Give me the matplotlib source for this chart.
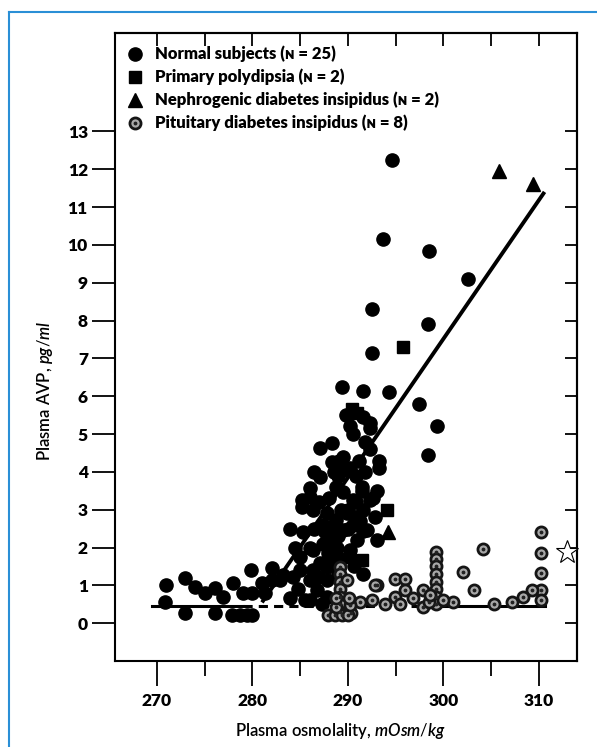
import matplotlib
matplotlib.use("Agg")
import matplotlib.pyplot as plt
from matplotlib.lines import Line2D

plt.rcParams['font.family'] = ['Lato', 'DejaVu Sans']
plt.rcParams['mathtext.fontset'] = 'custom'
plt.rcParams['mathtext.it'] = 'Lato:italic:semibold'
plt.rcParams['mathtext.rm'] = 'Lato'

# --- data ---
normal_x = [294.6, 293.7, 298.5, 302.6, 292.5, 298.4, 292.5, 289.4, 291.6, 294.3,
            297.4, 299.3, 298.4, 292.3, 293.3, 293.3, 291.5, 292.3, 293.0, 291.6,
            291.6, 292.3, 292.3, 290.2,
            287.1, 288.3, 288.3, 289.1, 289.5, 290.2, 287.1, 286.0, 285.2, 285.2,
            286.0, 286.3, 287.8, 288.8, 289.5, 290.5, 291.5, 293.0, 288.1, 288.8,
            289.5, 289.9, 290.9, 291.6, 292.0, 292.6, 290.2, 290.2, 288.4, 288.4,
            287.4, 287.4, 287.9, 288.4, 287.8, 287.1, 286.3, 285.0, 284.5, 285.0,
            286.3, 286.0, 286.9, 286.8, 287.8, 287.8, 283.9, 289.0, 290.0, 289.0,
            291.0, 290.5,
            286.5, 287.0, 288.0, 288.5, 289.5, 290.8, 291.2, 291.8, 286.5, 288.0,
            289.3, 289.0, 290.6, 291.6, 287.3, 286.0, 285.3, 286.0, 290.5, 289.8,
            291.8, 289.3, 290.9, 292.8, 287.6, 288.9, 290.0, 291.3,
            270.9, 270.8, 272.9, 272.9, 274.0, 275.0, 276.1, 276.1, 276.9, 278.0,
            277.9, 278.7, 279.4, 280.0, 279.0, 279.9, 280.0, 281.0, 281.3, 282.0,
            282.0, 282.9, 283.9, 283.2, 284.2, 285.5, 284.8]
normal_y = [12.25, 10.15, 9.85, 9.1, 8.3, 7.9, 7.15, 6.25, 6.15, 6.1,
            5.8, 5.2, 4.45, 4.6, 4.3, 4.1, 3.6, 3.25, 2.2, 2.45,
            5.45, 5.3, 5.15, 5.2,
            4.63, 4.76, 4.26, 4.3, 4.05, 4.1, 3.86, 3.57, 3.25, 3.07,
            3.33, 2.99, 2.91, 3.6, 3.47, 3.25, 3.5, 3.5, 2.54, 2.72,
            2.46, 2.91, 2.8, 2.99, 2.46, 3.3, 1.93, 1.75, 2.1, 1.93,
            2.1, 2.6, 1.85, 1.58, 1.48, 1.58, 1.93, 1.75, 2.0, 1.4,
            1.4, 1.14, 1.22, 0.87, 1.14, 0.69, 2.5, 3.9, 3.0, 2.3,
            2.2, 2.6,
            2.5, 3.2, 3.3, 4.0, 4.4, 3.9, 4.3, 4.0, 4.0, 2.2,
            1.7, 1.3, 1.5, 1.3, 0.5, 0.6, 2.4, 2.0, 5.0, 5.5,
            4.8, 3.0, 3.2, 2.8, 2.4, 2.0, 2.5, 2.7,
            1.0, 0.56, 1.19, 0.26, 0.95, 0.8, 0.92, 0.26, 0.69, 1.05,
            0.21, 0.21, 0.21, 0.21, 0.8, 1.4, 0.8, 1.05, 0.8, 1.45,
            1.14, 1.14, 0.66, 1.27, 1.22, 0.6, 0.9]

polydipsia_x = [295.8, 290.4, 291.0, 294.1, 291.5, 288.6]
polydipsia_y = [7.3, 5.65, 5.55, 3.0, 1.67, 1.85]

nephro_x = [305.8, 309.4, 294.2]
nephro_y = [11.95, 11.6, 2.4]

pituitary_x = [299.2, 299.2, 299.2, 299.2, 299.2, 299.2, 299.2, 299.2,
               304.2, 302.1, 303.2,
               310.2, 310.2, 310.2, 310.2, 310.2,
               309.3, 308.3, 307.2, 305.3, 301.0, 300.0,
               293.0, 294.9, 296.0, 296.0, 294.9, 293.9, 296.8, 297.9, 297.9, 291.3, 290.3,
               289.2, 289.2, 289.2, 289.2, 289.2, 289.2, 289.2,
               287.9, 288.6, 289.4, 290.0, 289.9, 288.8, 288.8, 290.2, 290.1, 292.8,
               292.5, 295.5, 298.5, 298.6]
pituitary_y = [1.88, 1.7, 1.5, 1.3, 1.1, 0.9, 0.7, 0.5,
               1.96, 1.35, 0.87,
               2.41, 1.85, 1.32, 0.87, 0.6,
               0.87, 0.7, 0.55, 0.52, 0.55, 0.6,
               1.0, 1.16, 1.16, 0.87, 0.7, 0.52, 0.66, 0.87, 0.42, 0.55, 0.27,
               1.48, 1.3, 1.1, 0.9, 0.7, 0.5, 0.3,
               0.21, 0.21, 0.21, 0.21, 1.14, 0.42, 0.66, 0.47, 0.66, 1.0,
               0.6, 0.5, 0.55, 0.75]

# regression line and baseline
slope_x = [281.0, 310.6]
slope_y = [0.55, 11.4]
base_solid1_x = [269.5, 279.0]
base_dash_x = [279.0, 300.0]
base_solid2_x = [300.0, 310.6]
base_y = 0.45

legend_labels = ["Normal subjects (\u0274 = 25)",
                 "Primary polydipsia (\u0274 = 2)",
                 "Nephrogenic diabetes insipidus (\u0274 = 2)",
                 "Pituitary diabetes insipidus (\u0274 = 8)"]

fig = plt.figure(figsize=(5.97, 7.47), dpi=100)
ax = fig.add_axes([0.1926, 0.1151, 0.7739, 0.8407])

ax.plot(slope_x, slope_y, color='black', lw=2.8, solid_capstyle='butt', zorder=2)
ax.plot(base_solid1_x, [base_y, base_y], color='black', lw=2.2, zorder=2)
ax.plot(base_dash_x, [base_y, base_y], color='black', lw=2.2, ls=(0, (3, 2)), zorder=2)
ax.plot(base_solid2_x, [base_y, base_y], color='black', lw=2.2, zorder=2)

ms = 9.5
pit_style = dict(mfc='#a8a8a8', mec='#151515', mew=2.0, ms=ms - 1.5)
ax.plot(normal_x, normal_y, 'o', color='black', ms=ms, zorder=3)
ax.plot(polydipsia_x, polydipsia_y, 's', color='black', ms=ms - 0.5, zorder=3)
ax.plot(nephro_x, nephro_y, '^', color='black', ms=ms + 1, zorder=3)
ax.plot(pituitary_x, pituitary_y, 'o', zorder=4, **pit_style)
ax.plot(pituitary_x, pituitary_y, '.', color='#222222', ms=3.5, zorder=5)

# legend drawn by hand
leg_x = 267.7
leg_rows = [15.05, 14.44, 13.84, 13.23]
ax.plot(leg_x, leg_rows[0], 'o', color='black', ms=ms)
ax.plot(leg_x, leg_rows[1], 's', color='black', ms=ms - 0.5)
ax.plot(leg_x, leg_rows[2], '^', color='black', ms=ms + 1)
ax.plot(leg_x, leg_rows[3], 'o', **pit_style)
ax.plot(leg_x, leg_rows[3], '.', color='#222222', ms=3.5)
for yy, lab in zip(leg_rows, legend_labels):
    ax.text(269.8, yy, lab, fontsize=12, fontweight='heavy', va='center', ha='left')

# star mark at the right edge
ax.plot(313.0, 1.88, '*', mfc='white', mec='black', mew=0.8, ms=17, clip_on=False, zorder=6)

ax.set_xlim(265.6, 314.0)
ax.set_ylim(-1.0, 15.6)

ax.set_xticks(range(270, 311, 10))
ax.set_xticks(range(275, 310, 10), minor=True)
ax.set_yticks(range(0, 14))
ax.tick_params(axis='x', which='major', direction='out', length=18, width=1.3, pad=5,
               labelsize=12.5)
ax.tick_params(axis='x', which='minor', direction='out', length=10.5, width=1.3)
ax.tick_params(axis='y', direction='out', length=16.5, width=1.3, pad=3, labelsize=12.5)
for lab in ax.get_xticklabels() + ax.get_yticklabels():
    lab.set_fontweight('heavy')

top = ax.secondary_xaxis('top')
top.set_xticks(range(270, 311, 5))
top.tick_params(direction='in', length=9, width=1.3, labeltop=False)
right = ax.secondary_yaxis('right')
right.set_yticks(range(0, 14))
right.tick_params(direction='in', length=9, width=1.3, labelright=False)

for sp in list(ax.spines.values()) + list(top.spines.values()) + list(right.spines.values()):
    sp.set_linewidth(1.5)

fig.text(0.571, 0.022, r"Plasma osmolality, $\it{mOsm/kg}$", fontsize=12,
         fontweight='semibold', ha='center', va='center')
fig.text(0.075, 0.477, r"Plasma AVP, $\it{pg/ml}$", fontsize=12, fontweight='semibold',
         rotation=90, ha='center', va='center')

# blue frame around the figure
fig.add_artist(Line2D([9 / 597, 9 / 597], [0, 1 - 12 / 747], color='#2a8fd6', lw=1.5))
fig.add_artist(Line2D([9 / 597, 1], [1 - 12 / 747, 1 - 12 / 747], color='#2a8fd6', lw=1.5))

fig.savefig('out.png', dpi=100)
